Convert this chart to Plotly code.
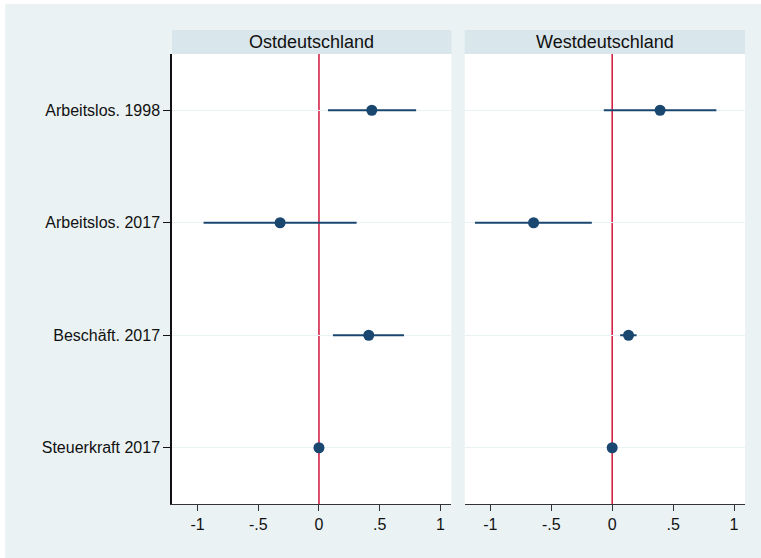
import plotly.graph_objects as go

categories = ["Arbeitslos. 1998", "Arbeitslos. 2017", "Beschäft. 2017", "Steuerkraft 2017"]
panels = ["Ostdeutschland", "Westdeutschland"]

ost_coef = [0.435, -0.32, 0.41, 0.0]
ost_low = [0.074, -0.95, 0.115, -0.004]
ost_high = [0.80, 0.31, 0.70, 0.004]

west_coef = [0.393, -0.645, 0.134, 0.0]
west_low = [-0.069, -1.126, 0.065, -0.004]
west_high = [0.855, -0.167, 0.20, 0.004]

x_ticks = [-1, -0.5, 0, 0.5, 1]
x_ticktext = ["-1", "-.5", "0", ".5", "1"]

NAVY = "#1A476F"
RED = "#D2143A"
BG = "#EAF2F3"
HEAD = "#D9E6EB"
FONT = "Liberation Sans, Arial, sans-serif"

fig = go.Figure()

for i, (coef, lo, hi) in enumerate([(ost_coef, ost_low, ost_high), (west_coef, west_low, west_high)]):
    xa = "x" if i == 0 else "x2"
    ya = "y" if i == 0 else "y2"
    fig.add_trace(go.Scatter(
        x=coef, y=categories, mode="markers", xaxis=xa, yaxis=ya,
        marker=dict(color=NAVY, size=11),
        error_x=dict(type="data", symmetric=False,
                     array=[h - c for h, c in zip(hi, coef)],
                     arrayminus=[c - l for c, l in zip(coef, lo)],
                     color=NAVY, thickness=2, width=0),
        showlegend=False, hoverinfo="skip",
    ))

L, R, T, B = 172, 15.5, 54, 53.5
W, H = 761, 558
pw = W - L - R
ph = H - T - B
d1 = (451.6 - L) / pw
d2 = (465 - L) / pw

xcommon = dict(range=[-1.21, 1.09], tickvals=x_ticks, ticktext=x_ticktext,
               showgrid=False, zeroline=False, showline=True, linecolor="#333333",
               linewidth=1, ticks="outside", ticklen=6, tickcolor="#333333",
               tickfont=dict(family=FONT, size=16, color="#111111"))
ycommon = dict(type="category", categoryorder="array", categoryarray=categories,
               range=[3.5, -0.5], showgrid=True, gridcolor=BG, gridwidth=1,
               zeroline=False)

fig.update_layout(
    width=W, height=H,
    margin=dict(l=L, r=R, t=T, b=B, pad=0),
    paper_bgcolor="white", plot_bgcolor="white",
    xaxis=dict(domain=[0, d1], anchor="y", **xcommon),
    xaxis2=dict(domain=[d2, 1], anchor="y2", **xcommon),
    yaxis=dict(anchor="x", showline=True, linecolor="#111111", linewidth=1.5,
               ticks="outside", ticklen=7, tickcolor="#111111",
               tickfont=dict(family=FONT, size=16, color="#111111"), **ycommon),
    yaxis2=dict(anchor="x2", showline=False, showticklabels=False, ticks="", **ycommon),
)

shapes = []
# outer background
shapes.append(dict(type="rect", xref="paper", yref="paper", layer="below",
                   x0=(5 - L) / pw, x1=(W + 10 - L) / pw, y0=-(B + 10) / ph, y1=1 + (T - 4) / ph,
                   fillcolor=BG, line=dict(width=0)))
# panel backgrounds (white) and headers
for x0, x1 in [(0, d1), (d2, 1)]:
    shapes.append(dict(type="rect", xref="paper", yref="paper", layer="below",
                       x0=x0, x1=x1, y0=0, y1=1, fillcolor="white", line=dict(width=0)))
    shapes.append(dict(type="rect", xref="paper", yref="paper", layer="below",
                       x0=x0, x1=x1, y0=1, y1=1 + 24 / ph, fillcolor=HEAD, line=dict(width=0)))
# reference lines at 0
for xr in ["x", "x2"]:
    shapes.append(dict(type="line", xref=xr, yref="paper", x0=0, x1=0, y0=0, y1=1,
                       line=dict(color=RED, width=1.5), layer="below"))
fig.update_layout(shapes=shapes)

for (x0, x1), name in zip([(0, d1), (d2, 1)], panels):
    fig.add_annotation(x=(x0 + x1) / 2, y=1 + 12 / ph, xref="paper", yref="paper",
                       text=name, showarrow=False, xanchor="center", yanchor="middle",
                       font=dict(family=FONT, size=18, color="#111111"))

fig.write_html("out.html", config={"displayModeBar": False},
               post_script="document.body.style.margin='0px';")
